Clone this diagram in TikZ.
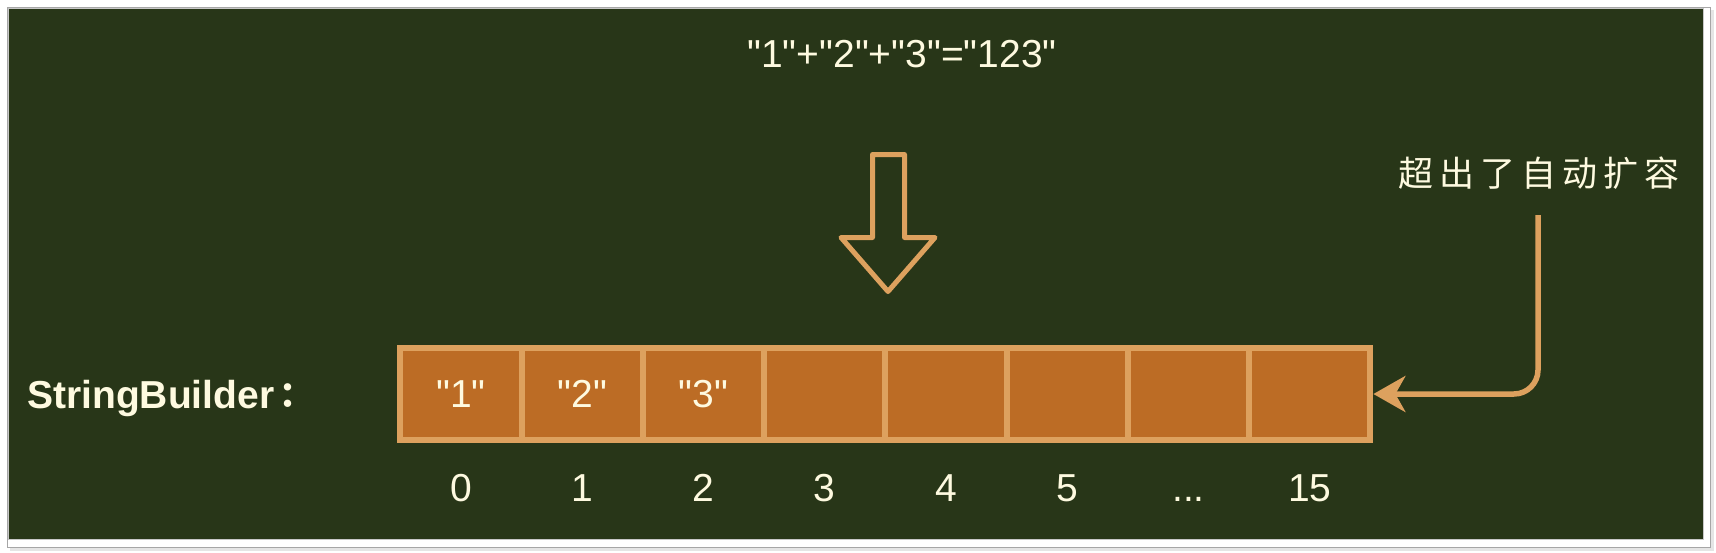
\documentclass[tikz,border=0pt]{standalone}
\usepackage{fontspec}
\setmainfont{Liberation Sans}[Ligatures=TeXOff]
\newfontfamily\cjk{Noto Sans CJK SC}
\newfontfamily\cjkjp{Noto Sans CJK JP}
\usetikzlibrary{arrows.meta}
\definecolor{bg}{HTML}{283618}
\definecolor{cream}{HTML}{FEFAE0}
\definecolor{sand}{HTML}{DDA15E}
\definecolor{rust}{HTML}{BC6C25}
\newcommand\mydotstext{...}
\begin{document}
\begin{tikzpicture}[x=1pt,y=-1pt,
  cell/.style={draw=sand, fill=rust, line width=6pt, minimum width=121.25pt,
    minimum height=92pt, inner sep=0pt, text=cream, font=\fontsize{39}{39}\selectfont},
  idx/.style={text=cream, inner sep=0pt, anchor=base, font=\fontsize{39}{39}\selectfont},
  txt/.style={text=cream, inner sep=0pt},
  link/.style={draw=sand, line width=5.5pt, rounded corners=24pt,
    -{Stealth[length=32pt,width=36pt,inset=10pt]}},
  bigarrow/.style={draw=sand, line width=5pt, line join=round}]
\useasboundingbox (0,0) rectangle (1716,552);
% frame
\fill[black!10] (10,10) rectangle (1714,551);
\filldraw[fill=white, draw=black!35, line width=1pt] (7.5,7.5) rectangle (1710,547);
\filldraw[fill=bg, draw=black!22, line width=0.8pt] (8,8) rectangle (1703,539);
% title
\node[txt, anchor=base] (title) at (902,67) {\fontsize{39}{39}\selectfont "1"+"2"+"3"="123"};
% big hollow arrow
\draw[bigarrow] (872.5,154.5) -- (904.5,154.5) -- (904.5,237.5) -- (935,237.5)
  -- (888,291.5) -- (841,237.5) -- (872.5,237.5) -- cycle;
% label
\node[txt, anchor=base west, font=\bfseries\fontsize{39}{39}\selectfont] (lbl) at (27,408)
  {StringBuilder\kern-4pt{\cjkjp\fontsize{35}{35}\selectfont ：}};
% cells
\foreach \i/\t in {0/"1",1/"2",2/"3",3/,4/,5/,6/,7/} {
  \node[cell] (c\i) at ({461+121.25*\i},394) {\t};
}
% indices
\foreach \i/\t in {0/0,1/1,2/2,3/3,4/4,5/5,6/\mydotstext,7/15} {
  \node[idx] (i\i) at ({461+121.25*\i},501) {\t};
}
% note
\node[txt, anchor=base west, font=\cjk\fontsize{35}{35}\selectfont] (note) at (1398,186)
  {超\hspace{6pt}出\hspace{6pt}了\hspace{6pt}自\hspace{6pt}动\hspace{6pt}扩\hspace{6pt}容};
\coordinate (cstart) at (1538,215);
\draw[link] (cstart) |- (c7.east);
\end{tikzpicture}
\end{document}
